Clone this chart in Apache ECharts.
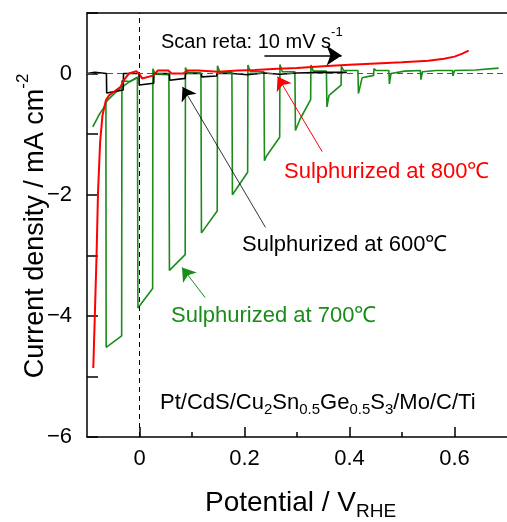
<!DOCTYPE html>
<html>
<head>
<meta charset="utf-8">
<script src="https://cdn.jsdelivr.net/npm/echarts@6/dist/echarts.min.js"></script>
<style>
html,body{margin:0;padding:0;background:#fff;}
#c{width:507px;height:522px;}
</style>
</head>
<body>
<div id="c"></div>
<script>
// ---- data ----
const xMajorTicks = [0, 0.2, 0.4, 0.6];
const xMinorTicks = [0.1, 0.3, 0.5];
const yTickLabels = [-6, -4, -2, 0];

// Sulphurized at 700 C : dark envelope at the start
const greenDarkV = [-0.089, -0.077, -0.067, -0.062, -0.048, -0.033, -0.018, -0.003];
const greenDarkJ = [-0.88, -0.68, -0.55, -0.45, -0.33, -0.22, -0.13, -0.06];

// Sulphurized at 700 C : chopped-light curve
const greenV = [
  -0.064, -0.0635, -0.034, -0.0335, -0.018, -0.004,
  -0.003, 0.025, 0.0255, 0.030, 0.056,
  0.057, 0.087, 0.0875, 0.092, 0.117,
  0.118, 0.148, 0.1485, 0.153, 0.176,
  0.177, 0.206, 0.2065, 0.211, 0.237,
  0.238, 0.242, 0.267, 0.2675, 0.272, 0.296,
  0.297, 0.306, 0.326, 0.3265, 0.331, 0.356,
  0.357, 0.361, 0.384, 0.3845, 0.389, 0.416,
  0.417, 0.424, 0.446, 0.4465, 0.451, 0.475,
  0.476, 0.479, 0.505, 0.535,
  0.536, 0.539, 0.565, 0.596,
  0.597, 0.600, 0.640, 0.684
];
const greenJ = [
  -0.50, -4.52, -4.33, -0.12, -0.13, -0.06,
  -3.87, -3.55, 0.08, -0.01, -0.02,
  -3.25, -2.99, 0.10, 0.02, 0.01,
  -2.63, -2.27, 0.13, 0.02, 0.02,
  -2.00, -1.63, 0.14, 0.03, 0.03,
  -1.44, -1.36, -1.05, 0.15, 0.03, 0.03,
  -0.94, -0.75, -0.43, 0.14, 0.04, 0.04,
  -0.55, -0.36, -0.19, 0.12, 0.05, 0.05,
  -0.33, -0.07, -0.03, 0.08, 0.05, 0.05,
  -0.17, 0.00, 0.04, 0.05,
  -0.10, 0.03, 0.05, 0.05,
  -0.04, 0.05, 0.06, 0.09
];

// Sulphurized at 800 C
const redV = [-0.088, -0.082, -0.079, -0.075, -0.0705, -0.064, -0.058, -0.0485, -0.036, -0.030, -0.020, -0.006, -0.001, 0.005, 0.027, 0.0345, 0.055, 0.061, 0.083, 0.092, 0.112, 0.15, 0.187, 0.22, 0.263, 0.30, 0.35, 0.40, 0.45, 0.50, 0.55, 0.58, 0.60, 0.615, 0.627];
const redJ = [-4.86, -3.07, -1.96, -1.13, -0.69, -0.44, -0.36, -0.30, -0.22, -0.11, 0.00, 0.04, 0.00, -0.08, -0.03, 0.05, 0.05, 0.00, 0.00, 0.05, 0.05, 0.03, 0.05, 0.06, 0.08, 0.09, 0.12, 0.145, 0.165, 0.185, 0.21, 0.245, 0.28, 0.33, 0.38];

// Sulphurized at 600 C
const blackV = [-0.100, -0.085, -0.063, -0.0625, -0.031, -0.0305, -0.001, -0.0005, 0.027, 0.0275, 0.057, 0.0575, 0.087, 0.0875, 0.118, 0.1185, 0.147, 0.1475, 0.177, 0.1775, 0.206, 0.2065, 0.237, 0.2375, 0.267, 0.2675, 0.30, 0.35, 0.395];
const blackJ = [0.00, 0.02, 0.00, -0.32, -0.27, 0.00, 0.00, -0.19, -0.16, 0.00, 0.00, -0.11, -0.08, 0.00, 0.00, -0.055, -0.04, 0.00, 0.00, -0.03, -0.02, 0.01, 0.01, -0.02, -0.01, 0.01, 0.01, 0.02, 0.02];

// annotation arrows [tail, head centre] in data units
const scanArrow = [[0.238, 0.30], [0.385, 0.30]];
const redArrow = [[0.348, -1.29], [0.263, -0.05]];
const blackArrow = [[0.240, -2.54], [0.082, -0.22]];
const greenArrow = [[0.125, -3.70], [0.081, -3.20]];

// ---- chart ----
const FONT = "'Liberation Sans', Arial, Helvetica, sans-serif";
const zip = (a, b) => a.map((v, i) => [v, b[i]]);
const GREEN = '#1a8c1a';
const RED = '#ff0000';

function arrowLine(pair, color, width, size) {
  return {
    silent: true,
    symbol: ['none', 'arrow'],
    symbolSize: size,
    label: { show: false },
    lineStyle: { color: color, width: width, type: 'solid' },
    itemStyle: { color: color },
    emphasis: { disabled: true },
    data: [[{ coord: pair[0] }, { coord: pair[1] }]]
  };
}

const chart = echarts.init(document.getElementById('c'), null, { renderer: 'canvas' });
const gridLeft = 87, gridTop = 13, gridW = 425, gridH = 424;

function richText(x, y, text, rich, color, size, extra) {
  return Object.assign({
    type: 'text', x: x, y: y, silent: true,
    style: {
      text: text, rich: rich, fill: color, fontFamily: FONT, fontSize: size,
      align: 'left', verticalAlign: 'middle', textAlign: 'left', textVerticalAlign: 'middle'
    }
  }, extra || {});
}

const supRich = (size, supSize, color) => ({
  m: { fontSize: size, fontFamily: FONT, fill: color, color: color, lineHeight: size, verticalAlign: 'top', padding: [Math.round(size * 0.28), 0, 0, 0] },
  p: { fontSize: supSize, fontFamily: FONT, fill: color, color: color, lineHeight: supSize, verticalAlign: 'top' }
});
const subRich = (size, subSize, color) => ({
  m: { fontSize: size, fontFamily: FONT, fill: color, color: color, lineHeight: size, verticalAlign: 'top' },
  b: { fontSize: subSize, fontFamily: FONT, fill: color, color: color, lineHeight: subSize, verticalAlign: 'top', padding: [Math.round(size * 0.45), 0, 0, 0] }
});

const option = {
  animation: false,
  backgroundColor: '#ffffff',
  grid: { left: gridLeft, top: gridTop, width: gridW, height: gridH, containLabel: false },
  xAxis: [
    {
      type: 'value', min: -0.1, max: 0.7, interval: 0.1, position: 'bottom',
      axisLine: { show: true, onZero: false, lineStyle: { color: '#000', width: 1.5 } },
      axisTick: { show: true, inside: true, length: 10, customValues: xMajorTicks, lineStyle: { color: '#000', width: 1.5 } },
      axisLabel: { show: true, customValues: xMajorTicks, margin: 11, color: '#000', fontSize: 22, fontFamily: FONT, formatter: v => String(v) },
      splitLine: { show: false }
    },
    {
      type: 'value', min: -0.1, max: 0.7, interval: 0.1, position: 'bottom',
      axisLine: { show: false, onZero: false },
      axisTick: { show: true, inside: true, length: 5, customValues: xMinorTicks, lineStyle: { color: '#000', width: 1.5 } },
      axisLabel: { show: false },
      splitLine: { show: false }
    },
    {
      type: 'value', min: -0.1, max: 0.7, position: 'top',
      axisLine: { show: true, onZero: false, lineStyle: { color: '#000', width: 1.5 } },
      axisTick: { show: false }, axisLabel: { show: false }, splitLine: { show: false }
    }
  ],
  yAxis: [
    {
      type: 'value', min: -6, max: 1, interval: 1, position: 'left',
      axisLine: { show: true, onZero: false, lineStyle: { color: '#000', width: 1.5 } },
      axisTick: { show: true, inside: true, length: 11, lineStyle: { color: '#000', width: 1.5 } },
      axisLabel: { show: true, customValues: yTickLabels, margin: 15, color: '#000', fontSize: 22, fontFamily: FONT,
        formatter: v => (v < 0 ? '\u2212' + (-v) : String(v)) },
      splitLine: { show: false }
    }
  ],
  series: [
    {
      name: 'zero', type: 'line', data: [], silent: true,
      markLine: {
        silent: true, symbol: ['none', 'none'], label: { show: false }, emphasis: { disabled: true },
        data: [
          { xAxis: 0, lineStyle: { color: '#000', width: 1, type: [5, 4] } },
          { yAxis: 0, lineStyle: { color: '#555', width: 1.2, type: [6, 4] } }
        ]
      }
    },
    {
      name: '700 dark', type: 'line', data: zip(greenDarkV, greenDarkJ), showSymbol: false, silent: true,
      lineStyle: { color: GREEN, width: 1.6 }, itemStyle: { color: GREEN }
    },
    {
      name: '700', type: 'line', data: zip(greenV, greenJ), showSymbol: false, silent: true,
      lineStyle: { color: GREEN, width: 1.6 }, itemStyle: { color: GREEN },
      markLine: arrowLine(greenArrow, GREEN, 1, 13)
    },
    {
      name: '600', type: 'line', data: zip(blackV, blackJ), showSymbol: false, silent: true,
      lineStyle: { color: '#000', width: 1.6 }, itemStyle: { color: '#000' },
      markLine: arrowLine(blackArrow, '#000', 0.8, 13)
    },
    {
      name: '800', type: 'line', data: zip(redV, redJ), showSymbol: false, silent: true,
      lineStyle: { color: RED, width: 2 }, itemStyle: { color: RED },
      markLine: arrowLine(redArrow, RED, 1, 13)
    },
    {
      name: 'scan', type: 'line', data: [], silent: true, itemStyle: { color: '#000' },
      markLine: arrowLine(scanArrow, '#000', 1.5, 15)
    }
  ],
  graphic: [
    richText(161, 36, '{m|Scan reta: 10 mV s}{p|-1}', supRich(20, 13, '#000'), '#000', 20),
    richText(284, 172, '{m|Sulphurized at 800\u2103}', { m: { fontSize: 22, fontFamily: FONT, fill: RED, color: RED } }, RED, 22),
    richText(242, 245, '{m|Sulphurized at 600\u2103}', { m: { fontSize: 22, fontFamily: FONT, fill: '#000', color: '#000' } }, '#000', 22),
    richText(171, 316, '{m|Sulphurized at 700\u2103}', { m: { fontSize: 22, fontFamily: FONT, fill: GREEN, color: GREEN } }, GREEN, 22),
    richText(160, 403, '{m|Pt/CdS/Cu}{b|2}{m|Sn}{b|0.5}{m|Ge}{b|0.5}{m|S}{b|3}{m|/Mo/C/Ti}', subRich(22, 15, '#000'), '#000', 22),
    richText(205, 503, '{m|Potential / V}{b|RHE}', subRich(28, 19, '#000'), '#000', 28),
    richText(28, 226, '{m|Current density / mA cm}{p|-2}', supRich(27, 17, '#000'), '#000', 27,
      { rotation: Math.PI / 2 })
  ]
};
// center rotated y-title
option.graphic[6].style.align = 'center';
option.graphic[6].style.textAlign = 'center';
chart.setOption(option);
</script>
</body>
</html>
